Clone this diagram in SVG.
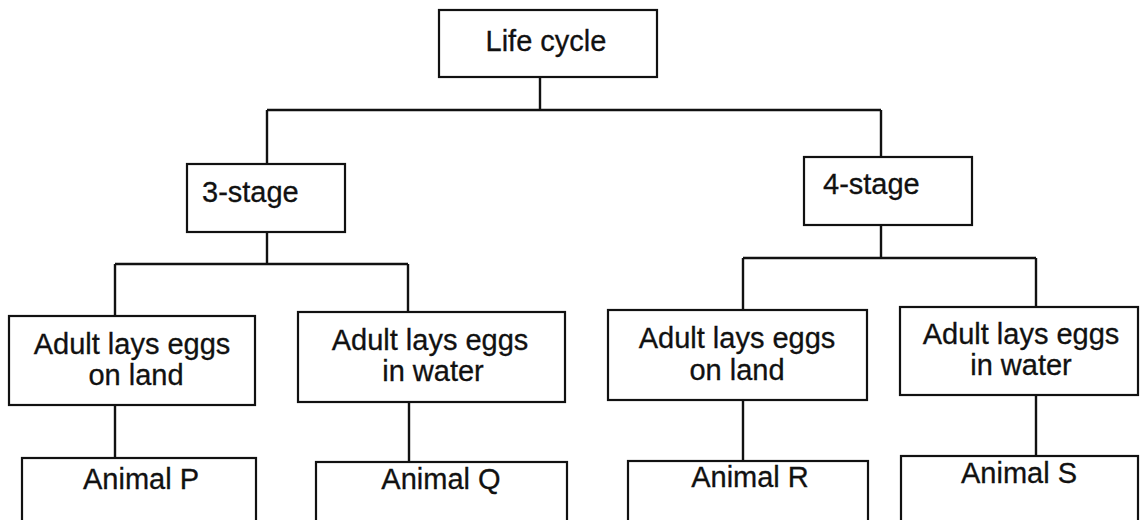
<svg xmlns="http://www.w3.org/2000/svg" width="1141" height="520" viewBox="0 0 1141 520">
<style>
.box{fill:#fff;stroke:#111;stroke-width:2.2}
.t{font-family:"Liberation Sans",Arial,sans-serif;font-size:29px;fill:#111;stroke:#111;stroke-width:0.3}
.m{text-anchor:middle}
.c{fill:none;stroke:#111;stroke-width:2.4}
</style>
<rect width="1141" height="520" fill="#fff"/>
<g id="connectors">
<path class="c" d="M540 77V110M267 110H881M267 110V164M881 110V157"/>
<path class="c" d="M267 232V264M115 264H408M115 264V316M408 264V312"/>
<path class="c" d="M881 225V258M743 258H1036M743 258V310M1036 258V307"/>
<path class="c" d="M115 405V458M409 402V462M743 400V461M1036 395V456"/>
</g>
<g id="life-cycle">
<rect class="box" x="439" y="10" width="218" height="67"/>
<text class="t m" x="546" y="51">Life cycle</text>
</g>
<g id="three-stage">
<rect class="box" x="187" y="164" width="158" height="68"/>
<text class="t" x="202" y="202">3-stage</text>
</g>
<g id="four-stage">
<rect class="box" x="804" y="157" width="168" height="68"/>
<text class="t" x="823" y="194">4-stage</text>
</g>
<g id="p-land">
<rect class="box" x="9" y="316" width="246" height="89"/>
<text class="t m" x="132" y="354">Adult lays eggs</text>
<text class="t m" x="136" y="385">on land</text>
</g>
<g id="q-water">
<rect class="box" x="298" y="312" width="267" height="90"/>
<text class="t m" x="430" y="350">Adult lays eggs</text>
<text class="t m" x="433" y="381">in water</text>
</g>
<g id="r-land">
<rect class="box" x="608" y="310" width="259" height="90"/>
<text class="t m" x="737" y="348">Adult lays eggs</text>
<text class="t m" x="737" y="380">on land</text>
</g>
<g id="s-water">
<rect class="box" x="900" y="307" width="238" height="88"/>
<text class="t m" x="1021" y="344">Adult lays eggs</text>
<text class="t m" x="1021" y="375">in water</text>
</g>
<g id="animal-p">
<rect class="box" x="22" y="458" width="234" height="70"/>
<text class="t m" x="141" y="489">Animal P</text>
</g>
<g id="animal-q">
<rect class="box" x="316" y="462" width="251" height="70"/>
<text class="t m" x="441" y="489">Animal Q</text>
</g>
<g id="animal-r">
<rect class="box" x="628" y="461" width="240" height="70"/>
<text class="t m" x="750" y="487">Animal R</text>
</g>
<g id="animal-s">
<rect class="box" x="901" y="456" width="237" height="70"/>
<text class="t m" x="1019" y="483">Animal S</text>
</g>
</svg>
